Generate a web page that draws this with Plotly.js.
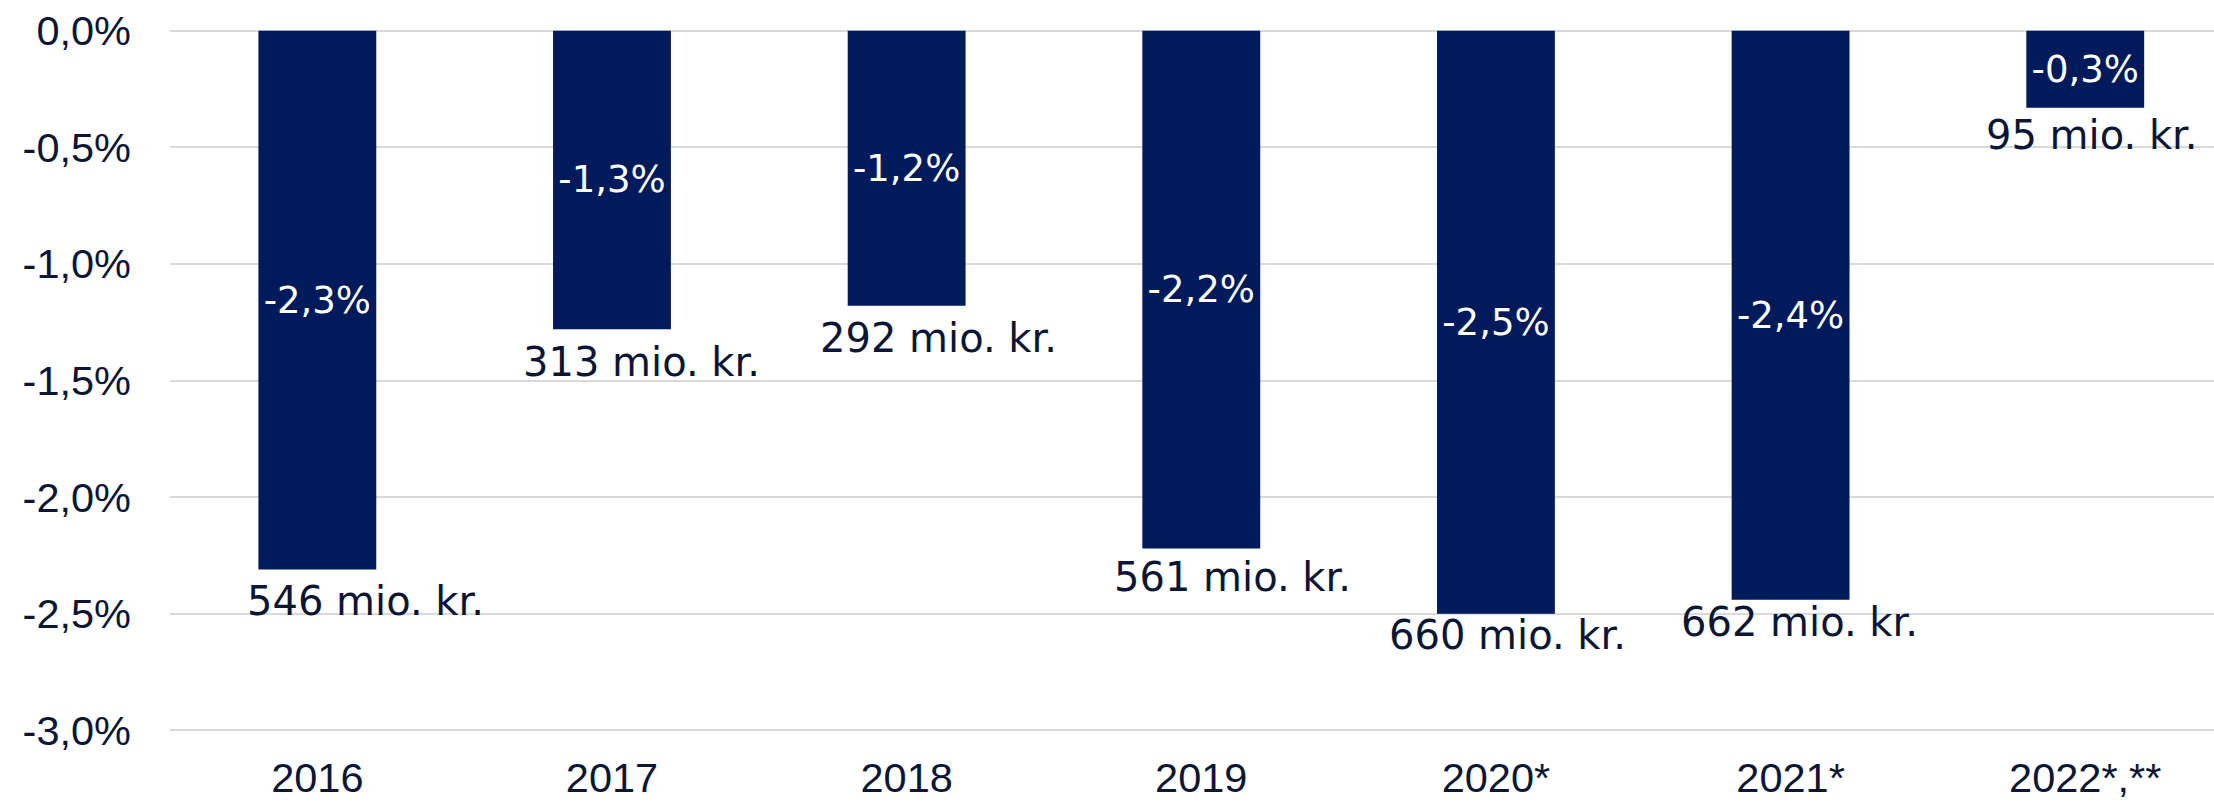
<!DOCTYPE html>
<html>
<head>
<meta charset="utf-8">
<script src="https://cdn.plot.ly/plotly-3.0.1.min.js"></script>
<style>
  html, body { margin: 0; padding: 0; background: #ffffff; }
  #chart { width: 2214px; height: 802px; }
</style>
</head>
<body>
<div id="chart"></div>
<script>
// ---- data ----
const years = ["2016", "2017", "2018", "2019", "2020*", "2021*", "2022*,**"];
const pctValues = [-2.31, -1.28, -1.18, -2.22, -2.50, -2.44, -0.33];
const pctLabels = ["-2,3%", "-1,3%", "-1,2%", "-2,2%", "-2,5%", "-2,4%", "-0,3%"];
const amountsMio = [546, 313, 292, 561, 660, 662, 95];
const yTickValues = [0, -0.5, -1.0, -1.5, -2.0, -2.5, -3.0];
const yTickLabels = ["0,0%", "-0,5%", "-1,0%", "-1,5%", "-2,0%", "-2,5%", "-3,0%"];

// ---- label placement (pixel offsets from bar end) ----
const labelShiftX = [48, 30, 32, 31, 12, 9, 7];
const labelShiftY = [32, 33, 32, 29, 21, 22, 27];

const navy = "#011a5b";
const textDark = "#0b1636";

const trace = {
  type: "bar",
  x: years,
  y: pctValues,
  text: pctLabels,
  textposition: "inside",
  insidetextanchor: "middle",
  textangle: 0,
  constraintext: "none",
  insidetextfont: { family: "DejaVu Sans", size: 37, color: "#ffffff" },
  marker: { color: navy, line: { width: 0 } },
  hoverinfo: "skip"
};

// category index positions so numeric-looking labels are not read as numbers
const annotations = years.map((yr, i) => ({
  x: i,
  y: pctValues[i],
  xref: "x",
  yref: "y",
  text: amountsMio[i] + " mio. kr.",
  showarrow: false,
  xanchor: "center",
  yanchor: "middle",
  xshift: labelShiftX[i],
  yshift: -labelShiftY[i],
  font: { family: "DejaVu Sans", size: 40, color: textDark }
}));

const layout = {
  width: 2214,
  height: 802,
  margin: { l: 169.65, r: 0, t: 26.03, b: 66.63, pad: 0 },
  paper_bgcolor: "#ffffff",
  plot_bgcolor: "#ffffff",
  showlegend: false,
  bargap: 0.6,
  xaxis: {
    type: "category",
    range: [-0.5, 6.437],
    showgrid: false,
    zeroline: false,
    showline: false,
    ticks: "",
    ticklabelstandoff: 14,
    tickfont: { family: "Liberation Sans", size: 41.5, color: textDark },
    fixedrange: true
  },
  yaxis: {
    range: [-3.02, 0.02],
    tickmode: "array",
    tickvals: yTickValues,
    ticktext: yTickLabels,
    showgrid: true,
    gridcolor: "#d9d9d9",
    gridwidth: 2,
    zeroline: false,
    showline: false,
    ticks: "",
    ticklabelstandoff: 38,
    tickfont: { family: "Liberation Sans", size: 41.5, color: textDark },
    fixedrange: true
  },
  annotations: annotations,
  font: { family: "Liberation Sans", color: textDark }
};

Plotly.newPlot("chart", [trace], layout, { staticPlot: true, displayModeBar: false });
</script>
</body>
</html>
